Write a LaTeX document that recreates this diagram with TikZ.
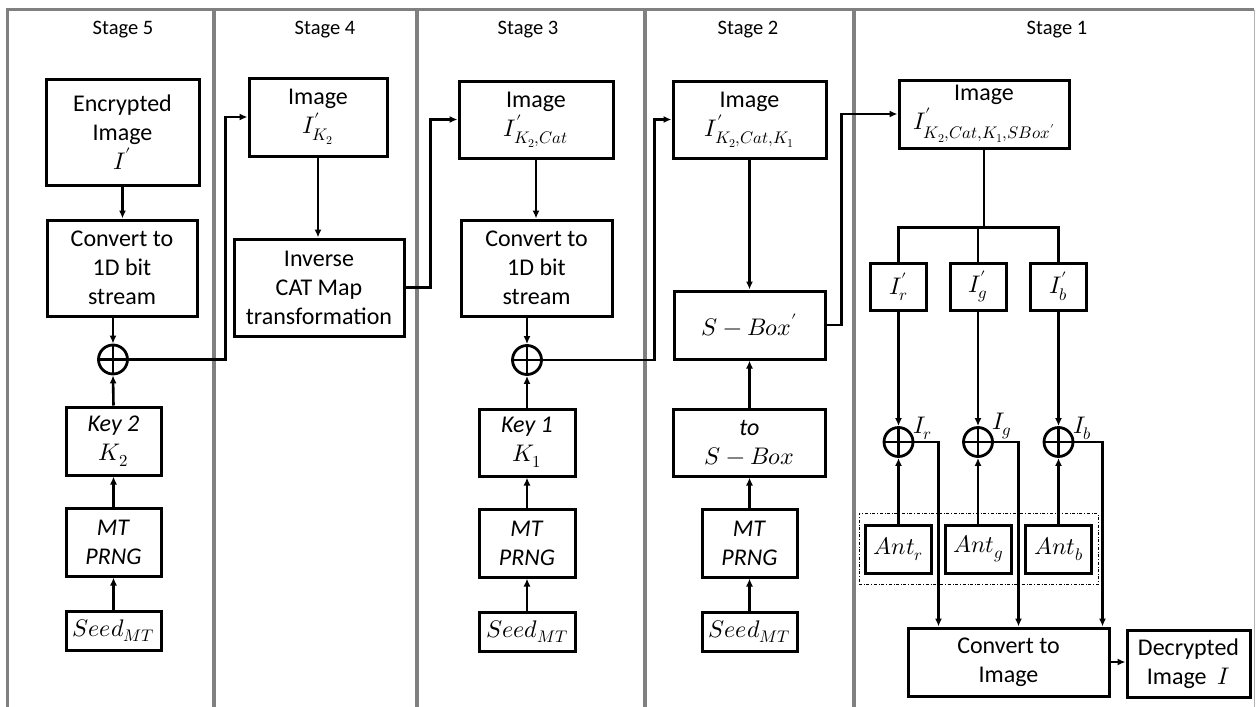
\documentclass[tikz,border=0pt]{standalone}
\usepackage{fontspec}
\usepackage{unicode-math}
\setmainfont{Carlito}
\setmathfont{Latin Modern Math}
\usetikzlibrary{arrows.meta,fit,calc}

\begin{document}
\begin{tikzpicture}[x=1pt, y=-1pt,
  box/.style={draw, line width=3pt, align=center, font=\fontsize{24}{29}\selectfont, inner sep=0pt},
  xor/.style={circle, draw, line width=2.8pt, minimum size=29pt, inner sep=0pt,
    path picture={\draw[line width=2.8pt] (path picture bounding box.north) -- (path picture bounding box.south)
      (path picture bounding box.west) -- (path picture bounding box.east);}},
  stg/.style={font=\fontsize{20.5}{24}\selectfont},
  lbl/.style={font=\fontsize{24}{28}\selectfont, inner sep=0pt},
  arrow/.style={-{Latex[length=8pt,width=7pt]}, line width=2.6pt},
  link/.style={line width=2.6pt},
  frame/.style={draw=black!50, line width=3.5pt}
]
\useasboundingbox (0,0) rectangle (1259,707);
% stage frames
\draw[frame] (7.5,707) -- (7.5,9.5) -- (1254,9.5);
\foreach \x in {214,417,645,854} \draw[frame] (\x,9.5) -- (\x,707);
\draw[draw=black!30, line width=1pt] (1254,9.5) -- (1254,707);
% Stage 5
\node[stg] (t5) at (123,30) {Stage 5};
\node[box, minimum width=153pt, minimum height=106pt] (enc) at (122.5,132) {Encrypted\\Image\\$I'$};
\node[box, minimum width=150pt, minimum height=96pt] (conv5) at (122,268) {Convert to\\1D bit\\stream};
\node[xor] (xor5) at (113,359.5) {};
\node[box, minimum width=95pt, minimum height=68pt] (key2) at (113.5,441) {\textit{Key 2}\\$K_2$};
\node[box, minimum width=95pt, minimum height=68pt] (mt5) at (113.5,542) {\textit{MT}\\\textit{PRNG}};
\node[box, minimum width=95pt, minimum height=39pt] (seed5) at (113.5,630.5) {$Seed_{MT}$};
\draw[arrow] (enc.south) -- (enc.south |- conv5.north);
\draw[arrow] (xor5.north |- conv5.south) -- (xor5.north);
\draw[arrow] (key2.north) -- (xor5.south);
\draw[arrow] (mt5.north) -- (key2.south);
\draw[arrow] (seed5.north) -- (mt5.south);
% Stage 4
\node[stg] (t4) at (325,30) {Stage 4};
\node[box, minimum width=138pt, minimum height=78pt] (img4) at (318,117) {Image\\$I'_{K_2}$};
\node[box, minimum width=170pt, minimum height=97pt] (cat) at (319,287.5) {Inverse\\CAT Map\\transformation};
\draw[arrow] (img4.south) -- (img4.south |- cat.north);
\draw[arrow] (xor5.east) -| ([xshift=-22pt]img4.west) -- (img4.west);
% Stage 3
\node[stg] (t3) at (528,30) {Stage 3};
\node[box, minimum width=154pt, minimum height=77pt] (img3) at (536,119.5) {Image\\$I'_{K_2,Cat}$};
\node[box, minimum width=151pt, minimum height=96pt] (conv3) at (536.5,268) {Convert to\\1D bit\\stream};
\node[xor] (xor3) at (527,360) {};
\node[box, minimum width=96pt, minimum height=67pt] (key1) at (527,442.5) {\textit{Key 1}\\$K_1$};
\node[box, minimum width=96pt, minimum height=68pt] (mt3) at (527,543) {\textit{MT}\\\textit{PRNG}};
\node[box, minimum width=96pt, minimum height=39pt] (seed3) at (527,631.5) {$Seed_{MT}$};
\draw[arrow] (cat.east) -| ([xshift=-27pt]img3.west) -- (img3.west);
\draw[arrow] (img3.south) -- (img3.south |- conv3.north);
\draw[arrow] (xor3.north |- conv3.south) -- (xor3.north);
\draw[arrow] (key1.north) -- (xor3.south);
\draw[arrow] (mt3.north) -- (key1.south);
\draw[arrow] (seed3.north) -- (mt3.south);
% Stage 2
\node[stg] (t2) at (748,30) {Stage 2};
\node[box, minimum width=153pt, minimum height=77pt] (img2) at (749.5,119.5) {Image\\$I'_{K_2,Cat,K_1}$};
\node[box, minimum width=151pt, minimum height=68pt] (sbp) at (749.5,325) {$S-Box'$};
\node[box, minimum width=152pt, minimum height=67pt] (tosb) at (749.5,442.5) {\textit{to}\\$S-Box$};
\node[box, minimum width=95pt, minimum height=68pt] (mt2) at (749.5,543) {\textit{MT}\\\textit{PRNG}};
\node[box, minimum width=95pt, minimum height=39pt] (seed2) at (749.5,631.5) {$Seed_{MT}$};
\draw[arrow] (xor3.east) -| ([xshift=-17pt]img2.west) -- (img2.west);
\draw[arrow] (img2.south) -- (sbp.north);
\draw[arrow] (tosb.north) -- (sbp.south);
\draw[arrow] (mt2.north) -- (tosb.south);
\draw[arrow] (seed2.north) -- (mt2.south);
% Stage 1
\node[stg] (t1) at (1057,30) {Stage 1};
\node[box, minimum width=170pt, minimum height=68pt] (img1) at (984,114) {Image\\$I'_{K_2,Cat,K_1,SBox'}$};
\draw[arrow] (sbp.east) -| ([xshift=-56pt]img1.west) -- (img1.west);
\node[box, minimum width=56pt, minimum height=47pt] (ir) at (898.5,286.5) {$I'_r$};
\node[box, minimum width=56pt, minimum height=47pt] (ig) at (978,286.5) {$I'_g$};
\node[box, minimum width=56pt, minimum height=47pt] (ib) at (1058.5,286.5) {$I'_b$};
\coordinate (br) at ($(img1.south)+(0,78)$);
\draw[link] (img1.south) -- (br);
\draw[link] (ir.north) |- (br) -| (ib.north);
\draw[link] (ig.north) -- (ig.north |- br);
\node[xor] (xr) at (898.5,442) {};
\node[xor] (xg) at (978,442) {};
\node[xor] (xb) at (1058.5,442) {};
\node[lbl, anchor=west] (lr) at (913,428) {$I_r$};
\node[lbl, anchor=west] (lg) at (992,426) {$I_g$};
\node[lbl, anchor=west] (lb) at (1073,428) {$I_b$};
\draw[arrow] (ir.south) -- (xr.north);
\draw[arrow] (ig.south) -- (xg.north);
\draw[arrow] (ib.south) -- (xb.north);
\node[box, minimum width=66pt, minimum height=48pt] (antr) at (898.5,549) {$Ant_r$};
\node[box, minimum width=66pt, minimum height=48pt] (antg) at (978,549) {$Ant_g$};
\node[box, minimum width=66pt, minimum height=48pt] (antb) at (1058.5,549) {$Ant_b$};
\draw[arrow] (antr.north) -- (xr.south);
\draw[arrow] (antg.north) -- (xg.south);
\draw[arrow] (antb.north) -- (xb.south);
\node[draw, dash dot, line width=0.8pt, inner xsep=5pt, inner ysep=10pt, fit=(antr)(antb)] (antgrp) {};
\node[box, minimum width=201pt, minimum height=68pt] (conv1) at (1008.5,662) {Convert to\\Image};
\node[box, minimum width=123pt, minimum height=67pt] (dec) at (1188.5,663.5) {Decrypted\\Image~~$I$};
\draw[arrow] (xr.east) -| ([xshift=32pt]conv1.north west);
\draw[arrow] (xg.east) -| ([xshift=112pt]conv1.north west);
\draw[arrow] (xb.east) -| ([xshift=196pt]conv1.north west);
\draw[arrow] (conv1.east) -- (conv1.east -| dec.west);
\end{tikzpicture}
\end{document}
